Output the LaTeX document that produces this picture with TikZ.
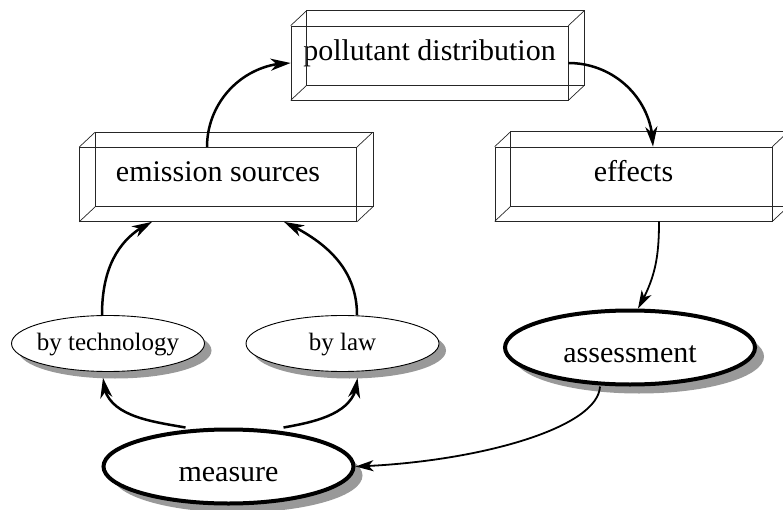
\documentclass[tikz,border=0pt]{standalone}
\usepackage{fontspec}
\setmainfont{Liberation Serif}
\usetikzlibrary{shapes.geometric,arrows.meta,bending,shadows}

\begin{document}
\begin{tikzpicture}[x=1pt, y=1pt,
    slab/.style={draw=black!85, line width=0.7pt, minimum width=277pt, minimum height=74pt,
        inner sep=0pt, font=\fontsize{30}{36}\selectfont, text height=17pt, text depth=22pt},
    oval/.style={ellipse, draw, fill=white, line width=0.9pt, minimum width=193pt, minimum height=56pt,
        inner xsep=-4pt, inner ysep=0pt, font=\fontsize{25}{30}\selectfont, text height=14pt, text depth=0pt,
        drop shadow={shadow xshift=7pt, shadow yshift=-7pt, fill=black!40, opacity=1}},
    bigoval/.style={ellipse, draw, fill=white, line width=4pt, minimum width=250pt, minimum height=74pt,
        inner sep=0pt, font=\fontsize{30}{36}\selectfont, text height=30pt, text depth=0pt,
        drop shadow={shadow xshift=9pt, shadow yshift=-9pt, fill=black!40, opacity=1}},
    flow/.style={line width=2.5pt, -{Stealth[length=20pt, width=12pt, inset=6pt]}},
    thinflow/.style={line width=1.8pt, -{Stealth[length=18pt, width=11pt, inset=5pt]}}]
\useasboundingbox (0,0) rectangle (783,509);

% boxes
\node[slab] (dist) at (429.5,446) {pollutant distribution};
\node[slab] (emis) at (218,324.5) {emission sources};
\node[slab] (eff) at (633.5,325) {effects};
\foreach \n in {dist,emis,eff} {
    \draw[draw=black!85, line width=0.7pt] ([shift={(16,15)}]\n.south west) rectangle ([shift={(16,15)}]\n.north east);
    \foreach \c in {south west,south east,north west,north east}
        \draw[draw=black!85, line width=0.7pt] (\n.\c) -- ([shift={(16,15)}]\n.\c);
}

% ellipses
\node[oval] (tech) at (108,165.5) {by technology};
\node[oval] (law) at (342.5,165.5) {by law};
\node[bigoval] (assess) at (630,161.5) {assessment};
\node[bigoval] (measure) at (228.5,42.5) {measure};

% arrows
\draw[flow] ([xshift=-11pt]emis.north) to[out=90,in=180] (dist.west);
\draw[flow] (dist.east) to[out=0,in=90] ([xshift=19.5pt]eff.north);
\draw[thinflow] ([xshift=25.5pt]eff.south) to[out=-90,in=60] ([xshift=8pt]assess.north);
\draw[thinflow] ([xshift=-30pt]assess.south) .. controls +(-2,-42) and +(120,4) .. (measure.east);
\draw[flow] ([xshift=-43pt]measure.north) to[out=170,in=-90] ([shift={(-5pt,-6pt)}]tech.south);
\draw[flow] ([xshift=55pt]measure.north) to[out=10,in=-90] ([shift={(15pt,-6pt)}]law.south);
\draw[flow] ([xshift=-6pt]tech.north) to[out=90,in=205] ([xshift=-66pt]emis.south);
\draw[flow] ([xshift=14.5pt]law.north) to[out=90,in=-25] ([xshift=66pt]emis.south);
\end{tikzpicture}
\end{document}
